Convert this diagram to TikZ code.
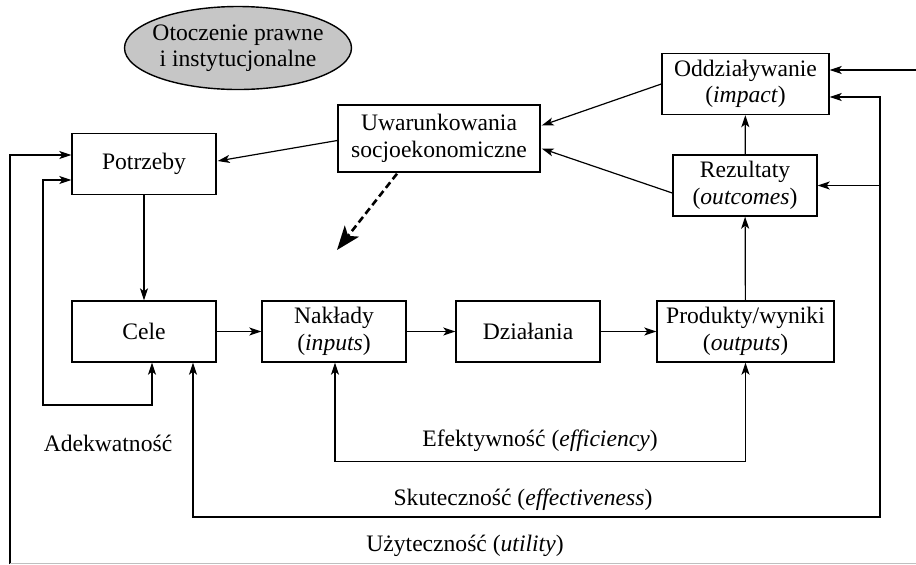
\documentclass[tikz,border=0pt]{standalone}
\usepackage{fontspec}
\setmainfont{Liberation Serif}
\usepackage{tikz}
\usetikzlibrary{calc,arrows.meta}

\begin{document}
\begin{tikzpicture}[x=0.5pt,y=-0.5pt,
    font=\fontsize{11.8}{13.2}\selectfont,
    blok/.style={draw, line width=0.7pt, minimum width=72pt, minimum height=30.5pt, align=center, inner sep=1pt},
    strz/.style={line width=0.6pt, -{Stealth[length=6pt,width=4pt,inset=1.5pt]}},
    strzdwa/.style={line width=0.6pt, {Stealth[length=6pt,width=4pt,inset=1.5pt]}-{Stealth[length=6pt,width=4pt,inset=1.5pt]}}]
    \useasboundingbox (0,0) rectangle (916,564);

    % draw ellipse
    \draw[fill=gray!45, line width=0.7pt] (238,48) ellipse [x radius=56.75pt, y radius=20.75pt];
    \node[align=center] (otoczenie) at (238,48) {Otoczenie prawne\\ i instytucjonalne};

    % draw boxes
    \node[blok] (potrzeby) at (144,164) {Potrzeby};
    \node[blok, minimum width=101pt, minimum height=33.5pt] (uwar) at (439,138.5) {Uwarunkowania\\ socjoekonomiczne};
    \node[blok, minimum width=83.5pt] (oddz) at (745.5,84) {Oddziaływanie\\ (\textit{impact})};
    \node[blok] (rezultaty) at (745,185.5) {Rezultaty\\ (\textit{outcomes})};
    \node[blok] (cele) at (144,331.5) {Cele};
    \node[blok] (naklady) at (334,331.5) {Nakłady\\ (\textit{inputs})};
    \node[blok] (dzialania) at (528,331.5) {Działania};
    \node[blok, minimum width=88.5pt] (produkty) at (745.5,331.5) {Produkty/wyniki\\ (\textit{outputs})};

    % draw main chain
    \draw[strz] (potrzeby) -- (cele);
    \draw[strz] (cele) -- (naklady);
    \draw[strz] (naklady) -- (dzialania);
    \draw[strz] (dzialania) -- (produkty);
    \draw[strz] (produkty) -- (rezultaty);
    \draw[strz] (rezultaty) -- (oddz);

    % draw feedback to context
    \draw[strz] (oddz.west) -- ($(uwar.east)+(1,-13)$);
    \draw[strz] ($(rezultaty.west)+(0,7.5)$) -- ($(uwar.east)+(1,10)$);
    \draw[strz] ($(uwar.west)+(0,2)$) -- ($(potrzeby.east)+(1,-3)$);
    \coordinate (wplyw) at (337,250);
    \draw[dash pattern=on 3.5pt off 2pt, line width=1.3pt, -{Stealth[length=12pt,width=9pt,inset=3pt]}] ($(uwar.south)+(-42,1)$) -- (wplyw);

    % draw evaluation loops
    \coordinate (adek) at (43,405);
    \draw[strzdwa] ($(cele.south)+(8,0)$) |- (adek) |- ($(potrzeby.west)+(0,16)$);
    \draw[strzdwa] ($(naklady.south)+(1,0)$) |- ($(produkty.south)+(0,99)$) -- (produkty.south);
    \coordinate (skut) at (880,517);
    \draw[strzdwa] ($(cele.south)+(49,0)$) |- (skut) |- ($(oddz.east)+(0,13)$);
    \draw[strz] (skut |- rezultaty.east) -- (rezultaty.east);
    \coordinate (uzyt) at (10,564);
    \draw[strz] (uzyt) |- ($(potrzeby.west)+(0,-9)$);
    \draw[gray!50, line width=0.5pt] (10,563) -- (916,563);
    \coordinate (wejscie) at (916,70);
    \draw[strz] (wejscie) -- ($(oddz.east)+(0,-14)$);

    % draw labels
    \node (adekwatnosc) at (108,443) {Adekwatność};
    \node (efektywnosc) at (540,441) {Efektywność (\textit{efficiency})};
    \node (skutecznosc) at (523,500) {Skuteczność (\textit{effectiveness})};
    \node (uzytecznosc) at (465,546) {Użyteczność (\textit{utility})};
\end{tikzpicture}
\end{document}
